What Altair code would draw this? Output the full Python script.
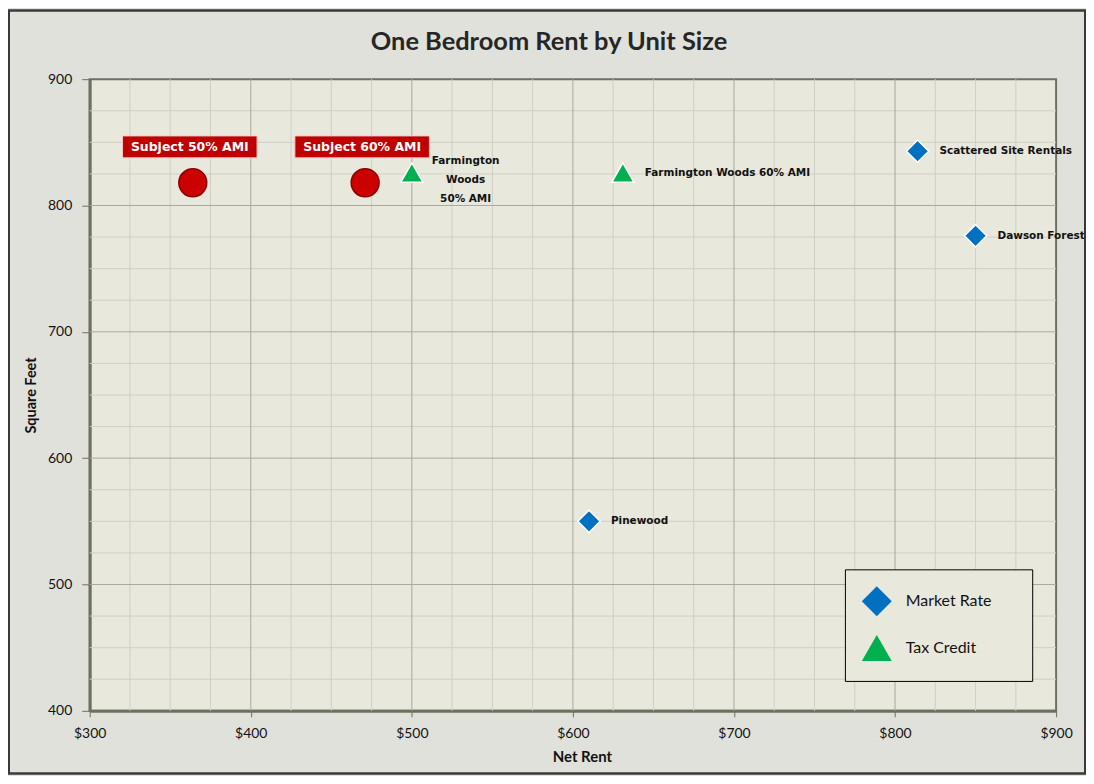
import altair as alt
import pandas as pd

# ---- data ----
subject_names = ["Subject 50% AMI", "Subject 60% AMI"]
subject_rent = [364, 471]
subject_sqft = [818, 818]

comp_names = ["Farmington Woods 50% AMI", "Farmington Woods 60% AMI",
              "Scattered Site Rentals", "Dawson Forest", "Pinewood"]
comp_labels = ["Farmington\nWoods\n50% AMI", "Farmington Woods 60% AMI",
               "Scattered Site Rentals", "Dawson Forest", "Pinewood"]
comp_types = ["Tax Credit", "Tax Credit", "Market Rate", "Market Rate", "Market Rate"]
comp_rent = [500, 631, 814, 850, 610]
comp_sqft = [826, 826, 843, 776, 550]

type_domain = ["Market Rate", "Tax Credit"]
type_colors = ["#0070c0", "#00b050"]
type_shapes = ["diamond", "triangle-up"]

x_ticks = [300, 400, 500, 600, 700, 800, 900]
y_ticks = [400, 500, 600, 700, 800, 900]
x_major_grid = [400, 500, 600, 700, 800]
y_major_grid = [500, 600, 700, 800]
x_minor_grid = [v for v in range(325, 900, 25) if v % 100 != 0]
y_minor_grid = [v for v in range(425, 900, 25) if v % 100 != 0]

FONT = "Lato"
LABEL_FONT = "DejaVu Sans"
PLOT_BG = "#e9e8dd"
OUTER_BG = "#e1e1dc"

subjects = pd.DataFrame({"name": subject_names, "rent": subject_rent, "sqft": subject_sqft})
comps = pd.DataFrame({"name": comp_names, "label": comp_labels, "type": comp_types,
                      "rent": comp_rent, "sqft": comp_sqft})
comps_single = comps[comps["name"] != "Farmington Woods 50% AMI"]
comps_multi = comps[comps["name"] == "Farmington Woods 50% AMI"]

xs = alt.Scale(domain=[300, 900], nice=False, zero=False)
ys = alt.Scale(domain=[400, 900], nice=False, zero=False)

xaxis = alt.Axis(values=x_ticks, labelExpr="'$' + datum.value", grid=False, labelFlush=False,
                 labelFont=FONT, labelFontSize=14, labelColor="#111111",
                 tickColor="#6f6f60", tickSize=6, labelPadding=10,
                 domainColor="#6f6f60", domainWidth=3,
                 titleFont=FONT, titleFontSize=15, titleFontWeight="bold", titleColor="#111111",
                 titleX=494, titleY=46, titleAlign="center", titleBaseline="middle")
yaxis = alt.Axis(values=y_ticks, grid=False, labelFlush=False,
                 labelFont=FONT, labelFontSize=14, labelColor="#111111",
                 tickColor="#6f6f60", tickSize=8, labelPadding=10,
                 domainColor="#6f6f60", domainWidth=3,
                 titleFont=FONT, titleFontSize=14.5, titleFontWeight="bold", titleColor="#111111",
                 titleX=-58, titleY=317, titleAlign="center", titleBaseline="middle", titleAngle=-90)

X = alt.X("rent:Q", scale=xs, axis=xaxis, title="Net Rent")
Y = alt.Y("sqft:Q", scale=ys, axis=yaxis, title="Square Feet")

vminor = alt.Chart(pd.DataFrame({"rent": x_minor_grid})).mark_rule(
    color="#cfcfc6", strokeWidth=1).encode(x=X)
hminor = alt.Chart(pd.DataFrame({"sqft": y_minor_grid})).mark_rule(
    color="#cfcfc6", strokeWidth=1).encode(y=Y)
vmajor = alt.Chart(pd.DataFrame({"rent": x_major_grid})).mark_rule(
    color="#a9a9a1", strokeWidth=1).encode(x=X)
hmajor = alt.Chart(pd.DataFrame({"sqft": y_major_grid})).mark_rule(
    color="#a9a9a1", strokeWidth=1).encode(y=Y)

pad = "\u2800\u2800"
leg = alt.Legend(title=None, labelExpr="datum.label + '" + pad + "'")
color_enc = alt.Color("type:N", scale=alt.Scale(domain=type_domain, range=type_colors), legend=leg)
shape_enc = alt.Shape("type:N", scale=alt.Scale(domain=type_domain, range=type_shapes), legend=leg)

comp_pts = alt.Chart(comps).mark_point(
    filled=True, size=500, opacity=1, stroke="white", strokeWidth=1.5
).encode(x=X, y=Y, color=color_enc, shape=shape_enc)

comp_text = alt.Chart(comps_single).mark_text(
    align="left", baseline="middle", dx=22, font=LABEL_FONT, fontSize=10.5,
    fontWeight="bold", color="#111111"
).encode(x=X, y=Y, text="label:N")

comp_text_multi = alt.Chart(comps_multi).mark_text(
    align="center", baseline="middle", dx=54, dy=-12, lineBreak="\n", lineHeight=19,
    font=LABEL_FONT, fontSize=10.5, fontWeight="bold", color="#111111"
).encode(x=X, y=Y, text="label:N")

subj_pts = alt.Chart(subjects).mark_point(
    filled=True, size=784, opacity=1, shape="circle", fill="#cc0000",
    stroke="#8a0000", strokeWidth=1.5
).encode(x=X, y=Y)

box_shape = "M-1,-0.163L1,-0.163L1,0.163L-1,0.163Z"
subj_box = alt.Chart(subjects).mark_point(
    filled=True, shape=box_shape, size=135 * 135, opacity=1, fill="#c00000",
    stroke="#f0c8c8", strokeWidth=1, yOffset=-36, xOffset=-3
).encode(x=X, y=Y)

subj_text = alt.Chart(subjects).mark_text(
    align="center", baseline="middle", dy=-36, dx=-3, font=LABEL_FONT, fontSize=12.5,
    fontWeight="bold", color="white"
).encode(x=X, y=Y, text="name:N")

frame = alt.Chart(subjects).mark_rect(
    fill=None, stroke="#3a3a3a", strokeWidth=2, clip=False
).encode(x=alt.value(-81), x2=alt.value(999), y=alt.value(-69), y2=alt.value(697))

chart = alt.layer(
    vminor, hminor, vmajor, hmajor, comp_pts, comp_text, comp_text_multi,
    subj_pts, subj_box, subj_text, frame
).properties(
    width=970, height=634,
    title=alt.Title("One Bedroom Rent by Unit Size", font=FONT, fontSize=25.5,
                    fontWeight="bold", color="#262626", anchor="middle", frame="group",
                    offset=0, dx=-24, dy=46),
    padding={"left": 82, "top": 70, "right": 30, "bottom": 64},
    autosize=alt.AutoSizeParams(type="none"),
    background=OUTER_BG,
).configure_view(
    fill=PLOT_BG, stroke="#6f6f60", strokeWidth=2
).configure_legend(
    orient="none", legendX=758, legendY=492, strokeColor="black", fillColor=PLOT_BG,
    padding=16, symbolSize=900, symbolStrokeColor="white", symbolStrokeWidth=2,
    symbolOpacity=1, labelFont=FONT, labelFontSize=16, labelColor="#111111",
    rowPadding=11, labelOffset=13, cornerRadius=0
)

chart.save("out.html", embed_options={"renderer": "svg", "actions": False})
